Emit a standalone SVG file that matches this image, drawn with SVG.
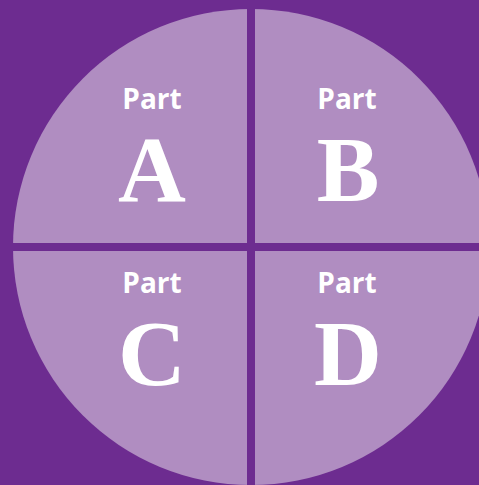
<svg xmlns="http://www.w3.org/2000/svg" width="479" height="485" viewBox="0 0 479 485">
<style>
.q{fill:#B08DC1}
.p{font-family:"Open Sans","Liberation Sans",sans-serif;font-weight:700;font-size:28px;fill:#fff;text-anchor:middle}
.L{font-family:"Liberation Serif","DejaVu Serif",serif;font-weight:700;font-size:94px;fill:#fff;text-anchor:middle}
</style>
<defs><clipPath id="c"><circle cx="251" cy="247" r="238"/></clipPath></defs>
<rect width="479" height="485" fill="#6D2C90"/>
<g clip-path="url(#c)">
<g id="partA"><rect class="q" x="0" y="0" width="247" height="243"/></g>
<g id="partB"><rect class="q" x="255" y="0" width="240" height="243"/></g>
<g id="partC"><rect class="q" x="0" y="251" width="247" height="240"/></g>
<g id="partD"><rect class="q" x="255" y="251" width="240" height="240"/></g>
</g>
<g id="labels">
<text class="p" x="152" y="109">Part</text><text class="L" x="152" y="201">A</text>
<text class="p" x="347" y="109">Part</text><text class="L" x="348" y="201">B</text>
<text class="p" x="152" y="293">Part</text><text class="L" x="152" y="385">C</text>
<text class="p" x="347" y="293">Part</text><text class="L" x="348" y="385">D</text>
</g>
<g id="connectors"/>
</svg>
